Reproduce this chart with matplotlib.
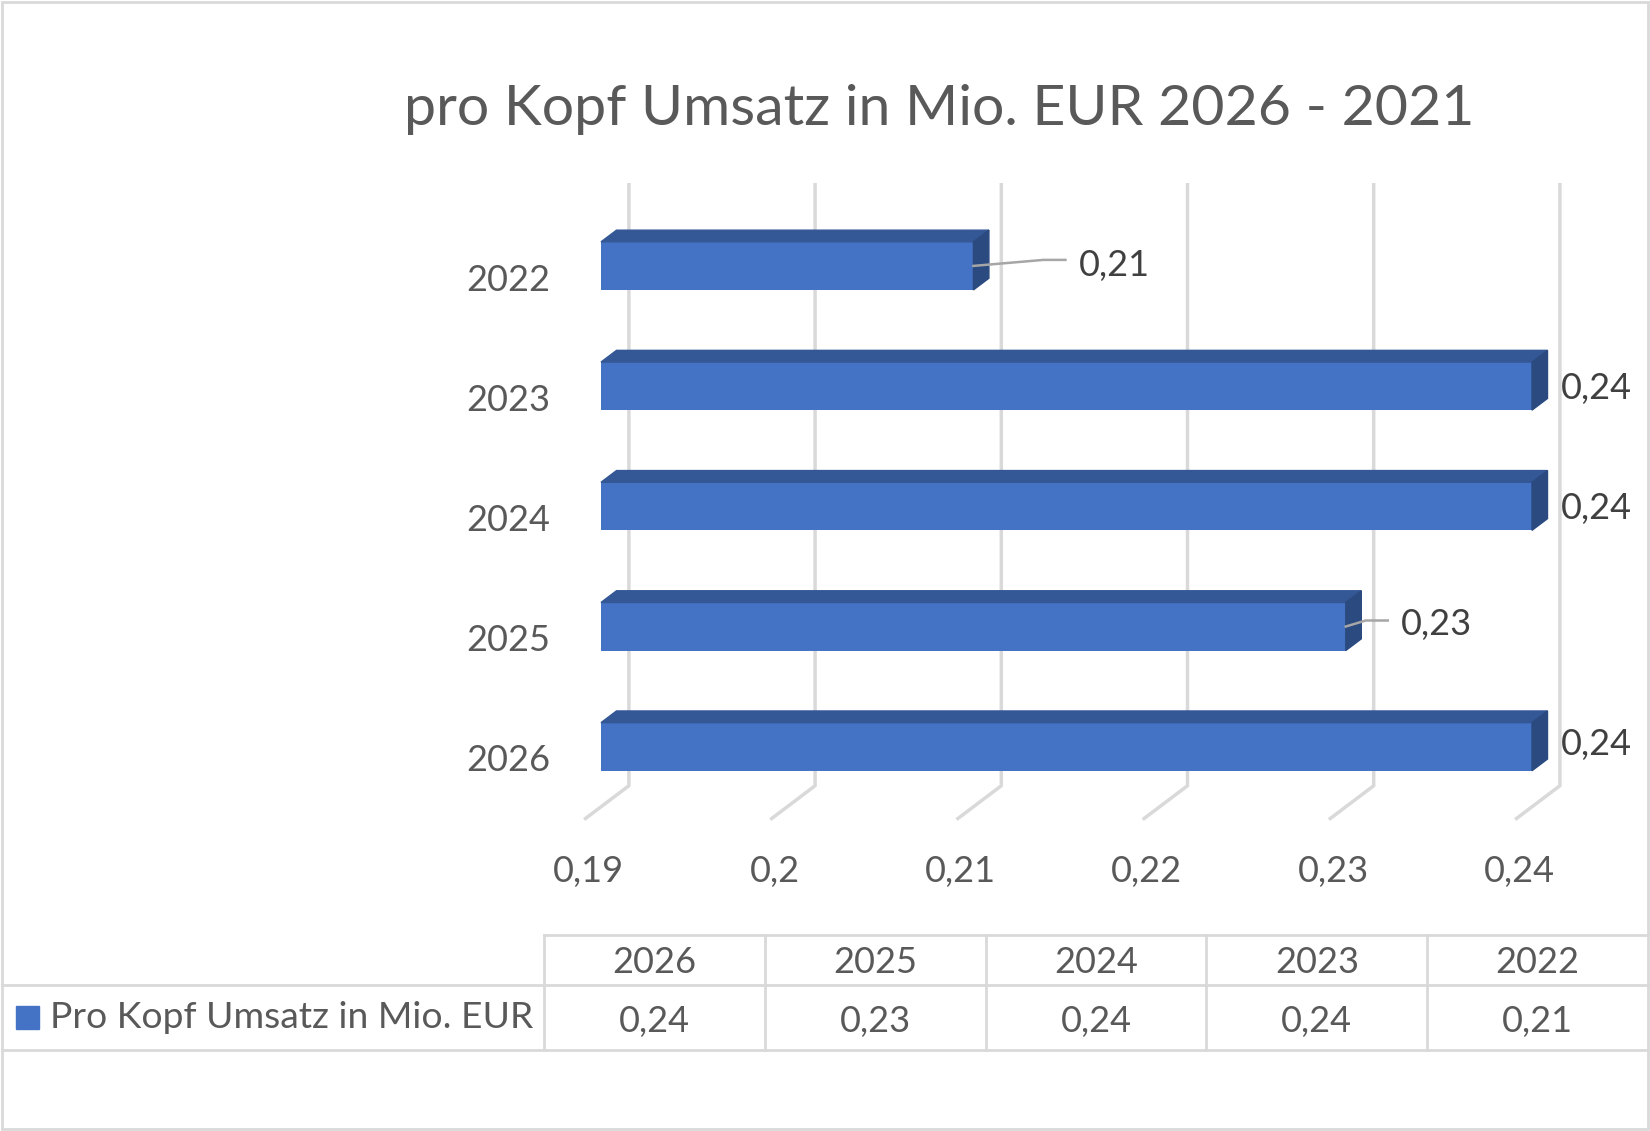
import numpy as np
import matplotlib.pyplot as plt
import matplotlib.transforms as mtransforms
from matplotlib.patches import Polygon, Rectangle
from matplotlib.lines import Line2D

plt.rcParams['font.family'] = ['Lato', 'DejaVu Sans']

# Daten
jahre = ['2026', '2025', '2024', '2023', '2022']
umsatz = [0.24, 0.23, 0.24, 0.24, 0.21]
umsatz_text = ['0,24', '0,23', '0,24', '0,24', '0,21']
x_ticks = [0.19, 0.20, 0.21, 0.22, 0.23, 0.24]
x_tick_text = ['0,19', '0,2', '0,21', '0,22', '0,23', '0,24']
titel = 'pro Kopf Umsatz in Mio. EUR 2026 - 2021'
serie = 'Pro Kopf Umsatz in Mio. EUR'

# Lage der Datenbeschriftung relativ zum Balkenende (Pixel)
label_dx = [29, 55, 29, 29, 105]
label_dy = [-8, -9, -13, -13, -10]

W, H = 1650, 1131
fig = plt.figure(figsize=(W / 100, H / 100), dpi=100)


def fx(px):
    return px / W


def fy(py):
    return 1 - py / H


grau = '#d9d9d9'
text_grau = '#595959'
blau = '#4472C4'
blau_oben = '#345895'
blau_seite = '#2A4A80'

# Zeichenflaeche = Vorderseite der Balken
x0, x1 = 601, 1532
ytop, ybot = 205.8, 806.8
ax = fig.add_axes([fx(x0), fy(ybot), (x1 - x0) / W, (ybot - ytop) / H])
ax.set_xlim(0.19, 0.24)
ax.set_ylim(-0.5, 4.5)
ax.axis('off')

# Tiefe (3D-Effekt) pro Einheit in Datenkoordinaten
dx = 15.5 / ((x1 - x0) / 0.05)
dy = 11.7 / ((ybot - ytop) / 5)

# Gitterlinien (Rueckwand + Boden)
for t in x_ticks:
    xb, yb = t + 1.8 * dx, -0.5 + 1.8 * dy
    ax.plot([t - dx, xb, xb], [-0.5 - dy, yb, 4.5 + 1.8 * dy], color=grau,
            lw=2.5, clip_on=False, zorder=1)

# Balken
pos = np.arange(len(jahre))
h = 0.4
ax.barh(pos, np.array(umsatz) - 0.19, left=0.19, height=h, color=blau, zorder=3)
for p, v in zip(pos, umsatz):
    oben = Polygon([(0.19, p + h / 2), (v, p + h / 2), (v + dx, p + h / 2 + dy),
                    (0.19 + dx, p + h / 2 + dy)], closed=True, color=blau_oben,
                   zorder=3, clip_on=False)
    seite = Polygon([(v, p - h / 2), (v, p + h / 2), (v + dx, p + h / 2 + dy),
                     (v + dx, p - h / 2 + dy)], closed=True, color=blau_seite,
                    zorder=3, clip_on=False)
    ax.add_patch(oben)
    ax.add_patch(seite)

# Datenbeschriftungen
for p, v, s, d, e in zip(pos, umsatz, umsatz_text, label_dx, label_dy):
    tr = mtransforms.offset_copy(ax.transData, fig=fig, x=d, y=e, units='dots')
    ax.text(v, p, s, transform=tr, ha='left', va='baseline', fontsize=26,
            color='#404040', zorder=5)
    if d > 40:
        sx, sy = ax.transData.transform((v, p))
        xs = [sx, sx + d - 35, sx + d - 13]
        ys = [sy, sy + 6, sy + 6]
        fig.add_artist(Line2D(xs, ys, transform=mtransforms.IdentityTransform(),
                              color='#a6a6a6', lw=1.8, zorder=4))

# Kategorien (y-Achse)
tr_cat = mtransforms.offset_copy(
    mtransforms.blended_transform_factory(fig.transFigure, ax.transData),
    fig=fig, y=-24.7, units='dots')
for p, j in zip(pos, jahre):
    ax.text(fx(550), p, j, transform=tr_cat, ha='right', va='baseline',
            fontsize=26, color=text_grau)

# x-Achse Beschriftung
tr_x = mtransforms.blended_transform_factory(ax.transData, fig.transFigure)
for t, s in zip(x_ticks, x_tick_text):
    ax.text(t - dx + 0.00015, fy(881.7), s, transform=tr_x, ha='center',
            va='baseline', fontsize=26, color=text_grau)

# Titel
fig.text(fx(939), fy(125), titel, ha='center', va='baseline', fontsize=41.2,
         color=text_grau)

# Datentabelle
def linie(xa, ya, xb, yb):
    fig.add_artist(Line2D([fx(xa), fx(xb)], [fy(ya), fy(yb)], color=grau, lw=2))


cols = np.linspace(544, 1648, len(jahre) + 1)
linie(544, 935, 1648, 935)
linie(2, 985, 1648, 985)
linie(2, 1050, 1648, 1050)
for c in cols[:-1]:
    linie(c, 935, c, 1050)

mitte = (cols[:-1] + cols[1:]) / 2
for m, j, s in zip(mitte, jahre, umsatz_text):
    fig.text(fx(m), fy(972.6), j, ha='center', va='baseline', fontsize=26,
             color=text_grau)
    fig.text(fx(m), fy(1031.6), s, ha='center', va='baseline', fontsize=26,
             color=text_grau)

fig.add_artist(Rectangle((fx(16), fy(1028.7)), 23 / W, 22.7 / H, color=blau))
fig.text(fx(50), fy(1028.5), serie, ha='left', va='baseline', fontsize=26.8,
         color=text_grau)

# Rahmen
fig.add_artist(Rectangle((fx(2), fy(1129)), 1646 / W, 1127 / H, fill=False,
                         edgecolor=grau, lw=2))

fig.savefig('out.png', dpi=100)
